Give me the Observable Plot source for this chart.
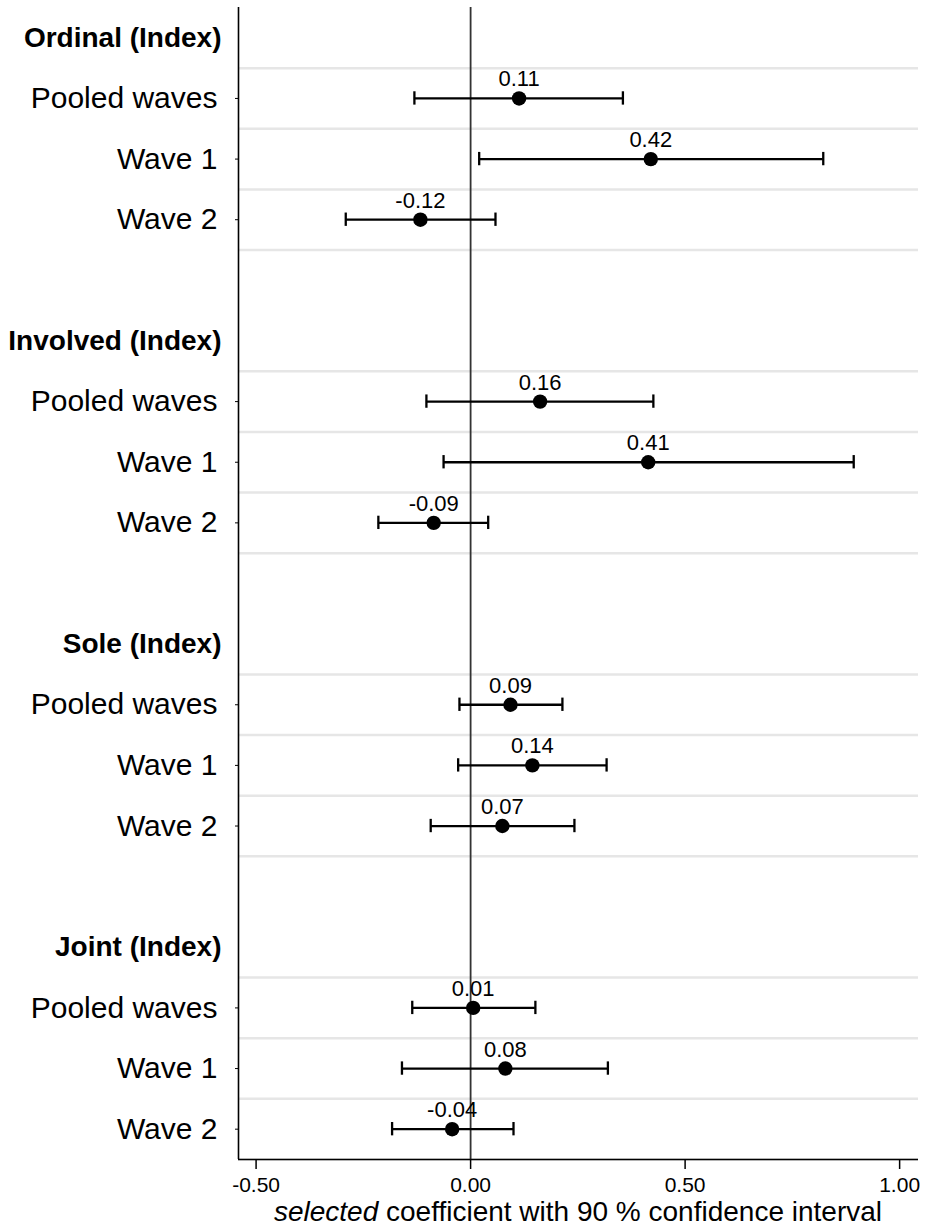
<!DOCTYPE html>
<html>
<head>
<meta charset="utf-8">
<script src="https://cdn.jsdelivr.net/npm/d3@7"></script>
<script src="https://cdn.jsdelivr.net/npm/@observablehq/plot@0.6"></script>
<style>
  body { margin: 0; background: #fff; font-family: 'Liberation Sans', Arial, sans-serif; }
  #title { width: 680px; margin-left: 238px; text-align: center; font-size: 28px; line-height: 28px; color: #000; }
</style>
</head>
<body>
<div id="chart"></div>
<div id="title"><i>selected</i> coefficient with 90 % confidence interval</div>
<script>
const groups = ["Ordinal (Index)", "Involved (Index)", "Sole (Index)", "Joint (Index)"];
const waves = ["Pooled waves", "Wave 1", "Wave 2"];
const coef = [0.113, 0.420, -0.117, 0.162, 0.414, -0.086, 0.093, 0.144, 0.074, 0.006, 0.081, -0.043];
const lo   = [-0.131, 0.020, -0.291, -0.103, -0.063, -0.215, -0.026, -0.029, -0.093, -0.136, -0.160, -0.183];
const hi   = [0.355, 0.822, 0.058, 0.426, 0.893, 0.041, 0.214, 0.317, 0.242, 0.151, 0.320, 0.100];
const valueLabels = ["0.11","0.42","-0.12","0.16","0.41","-0.09","0.09","0.14","0.07","0.01","0.08","-0.04"];
const xTicks = [-0.5, 0, 0.5, 1];
const xDomain = [-0.541, 1.044];

// build rows: each group = header + 3 waves + blank
const rows = [];
groups.forEach((g, gi) => {
  waves.forEach((w, wi) => {
    const k = gi * 3 + wi;
    rows.push({idx: gi * 5 + 1 + wi, label: w, coef: coef[k], lo: lo[k], hi: hi[k], text: valueLabels[k]});
  });
});
const headers = groups.map((g, gi) => ({idx: gi * 5, label: g}));
const nRows = groups.length * 5 - 1;
const grid = [];
groups.forEach((g, gi) => { for (let j = 0; j < 4; j++) grid.push(gi * 5 + j + 0.5); });

const labelOf = new Map([...rows, ...headers].map(d => [d.idx, d.label]));

const W = 927, H = 1198;
const chart = Plot.plot({
  width: W,
  height: H,
  marginLeft: 238,
  marginRight: 9,
  marginTop: 7,
  marginBottom: 39,
  style: {fontFamily: "'Liberation Sans', Arial, sans-serif", color: "#000", background: "#fff"},
  x: {domain: xDomain},
  y: {domain: [nRows - 0.5, -0.5]},
  marks: [
    Plot.ruleY(grid, {stroke: "#e6e6e6", strokeWidth: 2.5}),
    Plot.ruleX([0], {stroke: "#333", strokeWidth: 1.8}),
    Plot.ruleX([xDomain[0]], {stroke: "#000", strokeWidth: 1.6}),
    Plot.ruleY([nRows - 0.5], {stroke: "#000", strokeWidth: 1.6}),
    Plot.axisX({ticks: xTicks, tickFormat: d => d.toFixed(2), tickSize: 10, tickPadding: 8, fontSize: 21, label: null, stroke: "#000", strokeWidth: 1.5}),
    Plot.axisY({ticks: rows.map(d => d.idx), tickFormat: d => labelOf.get(d), tickSize: 3, tickPadding: 18, fontSize: 30, label: null}),
    Plot.axisY({ticks: headers.map(d => d.idx), tickFormat: d => labelOf.get(d), tickSize: 0, tickPadding: 17, fontSize: 28, fontWeight: "bold", label: null}),
    Plot.ruleY(rows, {y: "idx", x1: "lo", x2: "hi", stroke: "#000", strokeWidth: 2.3}),
    Plot.ruleX(rows, {x: "lo", y1: d => d.idx - 0.11, y2: d => d.idx + 0.11, stroke: "#000", strokeWidth: 2.3}),
    Plot.ruleX(rows, {x: "hi", y1: d => d.idx - 0.11, y2: d => d.idx + 0.11, stroke: "#000", strokeWidth: 2.3}),
    Plot.dot(rows, {x: "coef", y: "idx", r: 7.2, fill: "#000"}),
    Plot.text(rows, {x: "coef", y: "idx", text: "text", dy: -19, fontSize: 22, fill: "#000"})
  ]
});
document.getElementById("chart").appendChild(chart);
</script>
</body>
</html>
